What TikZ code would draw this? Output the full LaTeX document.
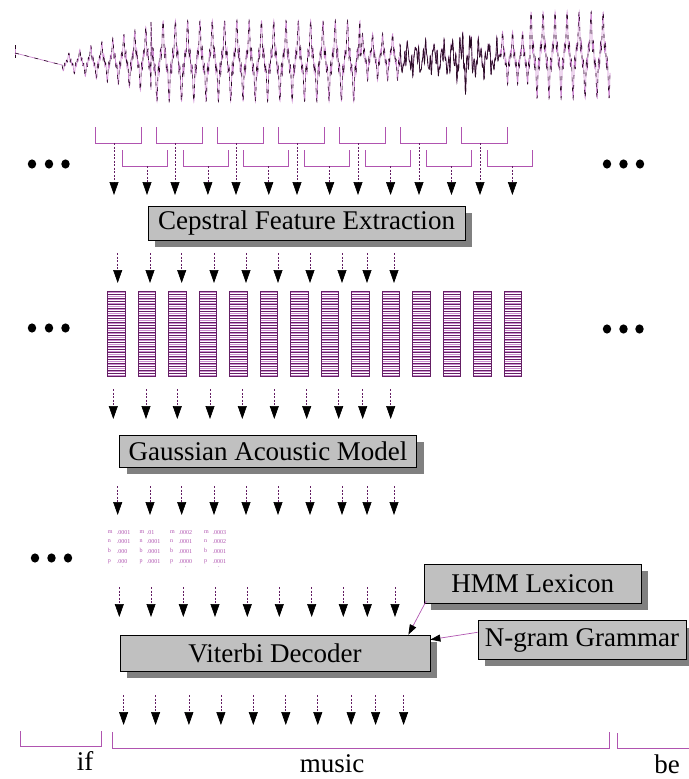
\documentclass[tikz,border=0pt]{standalone}
\usepackage{fontspec}
\setmainfont{Liberation Serif}
\usetikzlibrary{arrows.meta,shadows}
\definecolor{boxgray}{RGB}{192,192,192}
\definecolor{shadowgray}{RGB}{128,128,128}
\definecolor{lpurple}{RGB}{206,140,210}
\definecolor{dpurple}{RGB}{100,30,100}
\definecolor{mpurple}{RGB}{176,84,176}
\definecolor{wavedark}{RGB}{40,10,35}
\begin{document}
\begin{tikzpicture}[x=1pt,y=-1pt,
  declare function={ph(\x,\p)=mod(\x,\p)/\p;
                    sn(\x,\p)=sin(360*ph(\x,\p));
                    g(\x,\p)=0.8*sn(\x,\p)*sn(\x,\p)*sn(\x,\p)+0.2*sin(1800*ph(\x,\p))+0.08*sin(2520*ph(\x,\p)+30);
                    nz(\x)=0.5*sin(360*ph(\x,9))+0.3*sin(360*ph(\x,3.7)+20)+0.25*sin(360*ph(\x,2.3)+70)+0.15*sin(360*ph(\x,1.7));},
  bigfont/.style={font=\fontsize{27}{32}\selectfont},
  box/.style={draw=black,line width=0.8pt,fill=boxgray,inner sep=0pt,bigfont,
              drop shadow={shadow xshift=7pt,shadow yshift=-7pt,fill=shadowgray,opacity=1}},
  stem/.style={dpurple,line width=0.7pt,dash pattern=on 2pt off 1.5pt,
               -{Triangle[width=9pt,length=13pt,color=black]}},
  link/.style={mpurple,line width=0.7pt,-{Triangle[width=7pt,length=10pt,color=black]}},
  brk/.style={mpurple,line width=0.8pt},
  waveA/.style={lpurple,line width=0.7pt},
  waveB/.style={wavedark,line width=0.6pt,dash pattern=on 4pt off 6pt},
  small/.style={font=\fontsize{6}{9.7}\selectfont,text=mpurple,inner sep=0pt,align=left,anchor=north west},
  dot/.style={fill=black}
]
\useasboundingbox (0,0) rectangle (688,779);

% ---------------- waveform
\foreach \s in {waveA,waveB}{
\draw[\s] (15,45) -- (15,58);
\draw[\s] (15,53) -- (62,65)
  -- plot[domain=62:151,samples=360] (\x,{63-4*(\x-62)/89-(8+28*(\x-62)/89)*g(\x,11)})
  -- plot[domain=151:360,samples=840] (\x,{61-43*g(\x,12.3)})
  -- plot[domain=360:400,samples=160] (\x,{57-25*g(\x,10)})
  -- plot[domain=400:500,samples=500] (\x,{58-(22+22/(1+((\x-465)/6)^2))*nz(\x)/1.2})
  -- plot[domain=500:530,samples=120] (\x,{58-28*g(\x,10)})
  -- plot[domain=530:610,samples=320] (\x,{55-46*g(\x,12)});
}
\draw[wavedark,line width=0.6pt] plot[domain=400:500,samples=500] (\x,{58-(22+22/(1+((\x-465)/6)^2))*nz(\x)/1.2+0.8});

% ---------------- framing brackets + arrows
\foreach \i in {0,...,6}{
  \pgfmathsetmacro\L{95+61*\i}
  \draw[brk] (\L,127) |- (\L+46,143) -- (\L+46,127);
  \draw[stem] (\L+19,143) -- (\L+19,195);
  \pgfmathsetmacro\M{122+60.9*\i}
  \draw[brk] (\M,150) |- (\M+45,166) -- (\M+45,150);
  \draw[stem] (\M+25,166) -- (\M+25,195);
}

% ---------------- boxes
\node[box,minimum width=317pt,minimum height=34pt] (cep) at (306.5,223) {Cepstral Feature Extraction};
\node[box,minimum width=297pt,minimum height=32pt] (gau) at (268,451) {Gaussian Acoustic Model};
\node[box,minimum width=310pt,minimum height=36pt] (vit) at (275,653) {Viterbi Decoder};
\node[box,minimum width=217pt,minimum height=39pt] (hmm) at (532.7,583.7) {HMM Lexicon};
\node[box,minimum width=208pt,minimum height=38.6pt] (ngr) at (582,640) {N-gram Grammar};

% ---------------- arrow rows
\foreach \x in {117.7,150,181.7,214,246,278,310,342,367,394}
  \draw[stem] (\x,253) -- (\x,283);
\foreach \x in {113.3,146,177.3,210,242.3,274.3,306.7,338.7,362.7,390.7}
  \draw[stem] (\x,389) -- (\x,419);
\foreach \x in {117.7,150,181.7,214,246,278,310,342,367,394}
  \draw[stem] (\x,486) -- (\x,515);
\foreach \x in {119.3,151,183.3,215,247.3,279.3,311.7,343.3,367.3,395}
  \draw[stem] (\x,587) -- (\x,617);
\foreach \x in {123.6,155.6,188.9,220.9,253.3,285.8,317.8,351.1,375.6,403.6}
  \draw[stem] (\x,695) -- (\x,725);

% ---------------- feature vectors
\foreach \i in {0,...,13}{
  \pgfmathsetmacro\X{107.7+30.5*\i}
  \foreach \j in {1,...,25}
    \draw[lpurple,line width=1pt] (\X,{291+3.43*(\j-0.5)}) -- ++(17.5,0);
  \foreach \j in {1,...,24}
    \draw[dpurple,line width=0.55pt] (\X,{291+3.43*\j}) -- ++(17.5,0);
  \draw[dpurple,line width=0.8pt] (\X,291) rectangle ++(17.5,85.7);
}

% ---------------- phone likelihoods
\node[small] (l1) at (107.7,530) {m\\n\\b\\p};
\node[small] (n1) at (116.7,530) {.0001\\.0001\\.000\\.000};
\node[small] (l2) at (139.3,530) {m\\n\\b\\p};
\node[small] (n2) at (146.7,530) {.01\\.0001\\.0001\\.0001};
\node[small] (l3) at (170,530) {m\\n\\b\\p};
\node[small] (n3) at (178.5,530) {.0002\\.0001\\.0001\\.0000};
\node[small] (l4) at (204,530) {m\\n\\b\\p};
\node[small] (n4) at (212.5,530) {.0003\\.0002\\.0001\\.0001};
\node[small] (d1) at (122,567) {.};
\node[small] (d3) at (185,567) {.};
\node[small] (d4) at (218,567) {.};

% ---------------- knowledge sources into decoder
\draw[link] ([xshift=2.4pt,yshift=2.6pt]hmm.south west) -- ([xshift=-22pt]vit.north east);
\draw[link] ([yshift=-12pt]ngr.north west) -- ([yshift=-5pt]vit.north east);

% ---------------- ellipses
\foreach \x/\y in {32/164,49/164,65.5/164, 607/164,623.5/164,640/164,
                   32/328,49/328,65.5/328, 607/329,623.5/329,639.5/329,
                   35/558,51.5/558,68/558}
  \fill[dot] (\x,\y) ellipse[x radius=4.2pt,y radius=4.6pt];

% ---------------- words
\draw[brk] (20,731) |- (101,746) -- (101,731);
\draw[brk] (112,732) |- (609,748) -- (609,732);
\draw[brk] (617,733) |- (690,748);
\node[bigfont,anchor=base,inner sep=0pt] (wif) at (85,770) {if};
\node[bigfont,anchor=base,inner sep=0pt] (wmusic) at (332,772) {music};
\node[bigfont,anchor=base,inner sep=0pt] (wbe) at (667,773) {be};
\end{tikzpicture}
\end{document}
